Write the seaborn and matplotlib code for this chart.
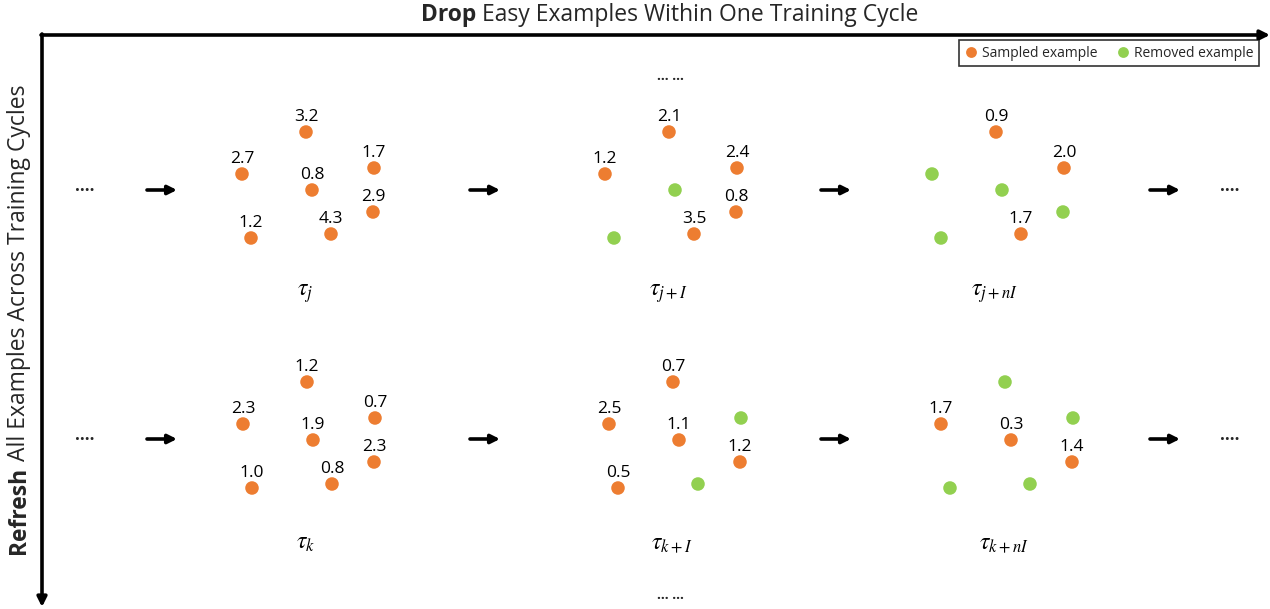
import pandas as pd
import matplotlib
matplotlib.use("Agg")
import matplotlib.pyplot as plt
import seaborn as sns


# Wartości przykładów w każdym panelu (None = usunięty przykład)
# kolejność slotów: góra, lewy, prawy-górny, środek, prawy-dolny, dół-środek, lewy-dolny
panel_labels = [r"$\tau_j$", r"$\tau_{j+I}$", r"$\tau_{j+nI}$",
                r"$\tau_k$", r"$\tau_{k+I}$", r"$\tau_{k+nI}$"]
values_j = [3.2, 2.7, 1.7, 0.8, 2.9, 4.3, 1.2]
values_j_I = [2.1, 1.2, 2.4, None, 0.8, 3.5, None]
values_j_nI = [0.9, None, 2.0, None, None, 1.7, None]
values_k = [1.2, 2.3, 0.7, 1.9, 2.3, 0.8, 1.0]
values_k_I = [0.7, 2.5, None, 1.1, 1.2, None, 0.5]
values_k_nI = [None, 1.7, None, 0.3, 1.4, None, None]
all_values = [values_j, values_j_I, values_j_nI, values_k, values_k_I, values_k_nI]

status_names = ["Sampled example", "Removed example"]
title_bold = "Drop"
title_rest = " Easy Examples Within One Training Cycle"
ylab_bold = "Refresh"
ylab_rest = " All Examples Across Training Cycles"

# Układ (piksele)
W, H = 1270, 609
slot_dx = [0, -64, 68, 6, 67, 25, -55]
slot_dy = [0, 42, 36, 58, 80, 102, 106]
anchor_x = [306, 669, 996, 307, 673, 1005]
anchor_y = [132, 132, 132, 382, 382, 382]
row_y = [190, 439]
arrow_x = [147, 470, 821, 1150]
colors = {"Sampled example": "#ED7D31", "Removed example": "#92D050"}


def build_frame():
    rows = []
    for p, vals in enumerate(all_values):
        for s, v in enumerate(vals):
            rows.append({
                "x": anchor_x[p] + slot_dx[s],
                "y": anchor_y[p] + slot_dy[s],
                "status": status_names[0] if v is not None else status_names[1],
                "value": v,
            })
    return pd.DataFrame(rows)


sns.set_theme(style="white")
plt.rcParams["font.family"] = ["Open Sans", "DejaVu Sans"]
plt.rcParams["mathtext.fontset"] = "stix"

df = build_frame()

fig = plt.figure(figsize=(W / 100, H / 100), dpi=100)
ax = fig.add_axes([0, 0, 1, 1])
ax.set_xlim(0, W)
ax.set_ylim(H, 0)
ax.axis("off")

sns.scatterplot(data=df, x="x", y="y", hue="status", hue_order=status_names,
                palette=colors, s=95, edgecolor="none", ax=ax)

# Etykiety wartości nad punktami
for _, r in df.dropna(subset=["value"]).iterrows():
    ax.text(r["x"], r["y"] - 7, f"{r['value']:.1f}", ha="center", va="bottom",
            fontsize=12.5, color="black")

# Podpisy paneli
for p, lab in enumerate(panel_labels):
    ax.text(anchor_x[p] - 1, anchor_y[p] + 161, lab, ha="center", va="center",
            fontsize=17, color="black")

# Strzałki między panelami
for y in row_y:
    ax.text(85, y - 4, "....", ha="center", va="center", fontsize=12, fontweight="bold")
    ax.text(1230, y - 4, "....", ha="center", va="center", fontsize=12, fontweight="bold")
    for x in arrow_x:
        ax.annotate("", xy=(x + 30, y), xytext=(x, y),
                    arrowprops=dict(arrowstyle="-|>", lw=2.6, color="black",
                                    mutation_scale=13, shrinkA=0, shrinkB=0))

ax.text(670, 76, "... ...", ha="center", va="center", fontsize=10, fontweight="bold")
ax.text(670, 595, "... ...", ha="center", va="center", fontsize=10, fontweight="bold")

# Osie-strzałki
ax.annotate("", xy=(1270, 35), xytext=(41, 35),
            arrowprops=dict(arrowstyle="-|>", lw=2.6, color="black",
                            mutation_scale=14, shrinkA=0, shrinkB=0))
ax.annotate("", xy=(42, 607), xytext=(42, 34),
            arrowprops=dict(arrowstyle="-|>", lw=2.6, color="black",
                            mutation_scale=14, shrinkA=0, shrinkB=0))

fig.canvas.draw()
renderer = fig.canvas.get_renderer()


# Tytuły osi (pogrubione pierwsze słowo)
def two_part_text(x, y, bold, rest, fontsize, rotation):
    a = ax.text(0, 0, bold, fontsize=fontsize, fontweight="bold")
    b = ax.text(0, 0, rest, fontsize=fontsize)
    wa = a.get_window_extent(renderer).width
    wb = b.get_window_extent(renderer).width
    a.remove()
    b.remove()
    total = wa + wb
    if rotation == 0:
        x0 = x - total / 2
        ax.text(x0, y, bold, fontsize=fontsize, fontweight="bold", ha="left", va="center")
        ax.text(x0 + wa, y, rest, fontsize=fontsize, ha="left", va="center")
    else:
        y0 = y + total / 2
        ax.text(x, y0, bold, fontsize=fontsize, fontweight="bold", ha="left",
                va="center", rotation=90, rotation_mode="anchor")
        ax.text(x, y0 - wa, rest, fontsize=fontsize, ha="left",
                va="center", rotation=90, rotation_mode="anchor")


two_part_text(670, 15, title_bold, title_rest, 16.5, 0)
two_part_text(19, 319, ylab_bold, ylab_rest, 16.5, 90)

# Legenda
handles, labels = ax.get_legend_handles_labels()
ax.get_legend().remove()
leg = ax.legend(handles, labels, loc="upper right", bbox_to_anchor=(1259, 40),
                bbox_transform=ax.transData, ncol=2, fontsize=10, frameon=True,
                fancybox=False, edgecolor="black", borderaxespad=0, borderpad=0.4,
                handletextpad=0.3, columnspacing=1.3, handlelength=1.0,
                markerscale=0.8)
leg.get_frame().set_linewidth(1.2)

fig.savefig("out.png", dpi=100)
